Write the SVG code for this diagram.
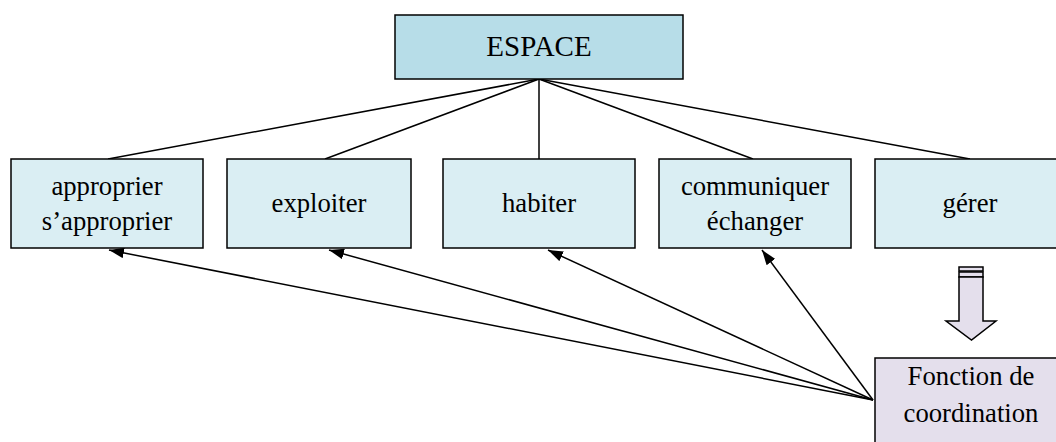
<svg xmlns="http://www.w3.org/2000/svg" width="1056" height="442" viewBox="0 0 1056 442">
<style>
.box{stroke:#000;stroke-width:1.5}
.row{fill:#daeef3}
.t{font-family:"Liberation Serif","Times New Roman",serif;fill:#000;text-anchor:middle}
.c{stroke:#000;stroke-width:1.5;fill:none}
</style>
<defs>
<marker id="ah" viewBox="0 0 10 10" refX="10" refY="5" markerWidth="10" markerHeight="10" markerUnits="userSpaceOnUse" orient="auto">
<path d="M0,0 L10,5 L0,10 z" fill="#000"/>
</marker>
<marker id="ah2" viewBox="0 0 14 10" refX="14" refY="5" markerWidth="15" markerHeight="11" markerUnits="userSpaceOnUse" orient="auto">
<path d="M0,0 L14,5 L0,10 z" fill="#000"/>
</marker>
</defs>
<g id="connectors">
<line class="c" x1="539" y1="79" x2="108" y2="159"/>
<line class="c" x1="539" y1="79" x2="325" y2="159"/>
<line class="c" x1="539" y1="79" x2="539" y2="159"/>
<line class="c" x1="539" y1="79" x2="753" y2="159"/>
<line class="c" x1="539" y1="79" x2="970" y2="159"/>
<line class="c" x1="873" y1="400" x2="109" y2="250" marker-end="url(#ah2)"/>
<line class="c" x1="873" y1="400" x2="329" y2="250" marker-end="url(#ah2)"/>
<line class="c" x1="873" y1="400" x2="548" y2="250" marker-end="url(#ah2)"/>
<line class="c" x1="873" y1="400" x2="762" y2="250" marker-end="url(#ah2)"/>
<g id="block-arrow" fill="#e4dfec" stroke="#000" stroke-width="1.5">
<rect x="959" y="267" width="24" height="4"/>
<rect x="959" y="272" width="24" height="5"/>
<path d="M959,277 L983,277 L983,321 L996,321 L971.5,340 L946,321 L959,321 Z"/>
</g>
</g>
<g id="espace">
<rect class="box" x="395" y="15" width="288" height="64" fill="#b7dde8"/>
<text class="t" x="539" y="56" font-size="29">ESPACE</text>
</g>
<g id="approprier">
<rect class="box row" x="11" y="159" width="192" height="89"/>
<text class="t" x="107" y="195" font-size="26.7">approprier</text>
<text class="t" x="107" y="230" font-size="26.7">s’approprier</text>
</g>
<g id="exploiter">
<rect class="box row" x="227" y="159" width="184" height="89"/>
<text class="t" x="319" y="212" font-size="26.7">exploiter</text>
</g>
<g id="habiter">
<rect class="box row" x="443" y="159" width="192" height="89"/>
<text class="t" x="539" y="212" font-size="26.7">habiter</text>
</g>
<g id="communiquer">
<rect class="box row" x="659" y="159" width="192" height="89"/>
<text class="t" x="755" y="195" font-size="26.7">communiquer</text>
<text class="t" x="755" y="230" font-size="26.7">échanger</text>
</g>
<g id="gerer">
<rect class="box row" x="875" y="159" width="190" height="89"/>
<text class="t" x="970" y="212" font-size="26.7">gérer</text>
</g>
<g id="fonction">
<rect class="box" x="875" y="358" width="192" height="95" fill="#e4dfec"/>
<text class="t" x="971" y="385" font-size="26.7">Fonction de</text>
<text class="t" x="971" y="422" font-size="26.7">coordination</text>
</g>
</svg>
